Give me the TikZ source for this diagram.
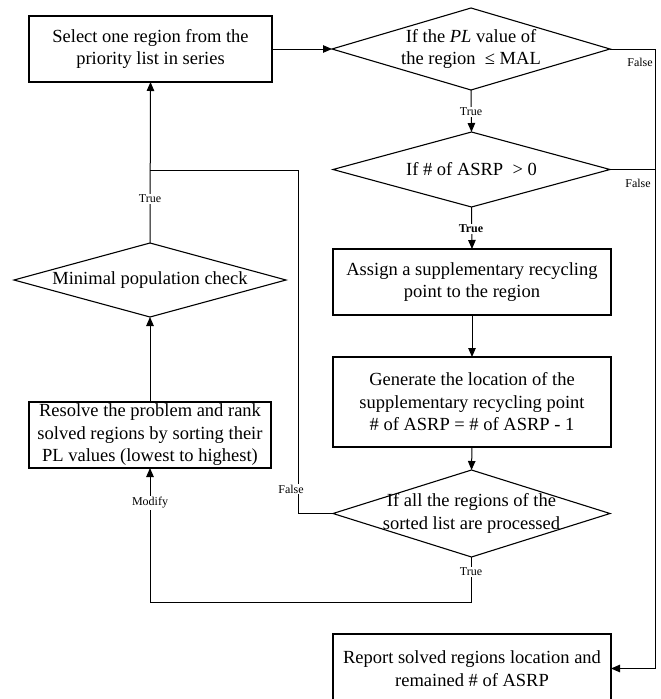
\documentclass[tikz,border=0pt]{standalone}
\usepackage{fontspec}
\setmainfont{Liberation Serif}
\usetikzlibrary{arrows.meta}
\begin{document}
\begin{tikzpicture}[x=1pt,y=-1pt,
  every node/.style={inner sep=0pt,outer sep=0pt},
  conn/.style={line width=1pt},
  arr/.style={conn,-{Triangle[length=9pt,width=7.5pt]}},
  box/.style={draw,line width=1.1pt,align=center,font=\fontsize{18.5}{22.5}\selectfont},
  dtext/.style={align=center,font=\fontsize{18.5}{22.5}\selectfont},
  lab/.style={fill=white,inner sep=1pt,font=\fontsize{12}{13}\selectfont}]
\useasboundingbox[fill=white] (0,0) rectangle (661,699);
% boxes
\node[box,minimum width=243pt,minimum height=66pt] (sel) at (150.5,49) {Select one region from the\\priority list in series};
\node[box,minimum width=278pt,minimum height=66pt] (asg) at (472,282) {Assign a supplementary recycling\\point to the region};
\node[box,minimum width=278pt,minimum height=90pt] (gen) at (472,402) {Generate the location of the\\supplementary recycling point\\\# of ASRP = \# of ASRP - 1};
\node[box,minimum width=278pt,minimum height=69pt] (rep) at (472,668.5) {Report solved regions location and\\remained \# of ASRP};
\node[box,minimum width=242pt,minimum height=66pt] (res) at (150,435) {Resolve the problem and rank\\solved regions by sorting their\\PL values (lowest to highest)};
% diamonds
\node[minimum width=278pt,minimum height=82pt] (d1) at (471,49) {};
\node[minimum width=277pt,minimum height=75pt] (d2) at (471.5,169.5) {};
\node[minimum width=277pt,minimum height=87pt] (d3) at (471.5,513.5) {};
\node[minimum width=272pt,minimum height=74pt] (mpc) at (150,280) {};
\foreach \d in {d1,d2,d3,mpc}
  \draw[line width=1.1pt,line join=miter] (\d.north) -- (\d.east) -- (\d.south) -- (\d.west) -- cycle;
\node[dtext] (t1) at (d1.center) {If the \textit{PL} value of\\the region \ ≤ MAL};
\node[dtext] (t2) at (d2.center) {If \# of ASRP \ > 0};
\node[dtext] (t3) at (d3.center) {If all the regions of the\\sorted list are processed};
\node[dtext] (t4) at (mpc.center) {Minimal population check};
% coordinates
\coordinate (rr) at (655,49);
\coordinate (j) at (150,170);
% connectors
\draw[arr] (sel.east) -- (d1.west);
\draw[arr] (d1.south) -- (d2.north);
\draw[arr] (d2.south) -- (asg.north);
\draw[arr] (asg.south) -- (gen.north);
\draw[arr] (gen.south) -- (d3.north);
\draw[arr] (d1.east) -- (rr) |- (rep.east);
\draw[conn] (d2.east) -- (d2.east -| rr);
\draw[arr] (mpc.north) -- (sel.south);
\draw[arr] (res.north) -- (mpc.south);
\draw[conn] (d3.west) -- ++(-35,0) |- (j);
\draw[arr] (d3.south) -- ++(0,45) -| (res.south);
% labels
\node[lab] (l1) at (471,112) {True};
\node[lab,font=\fontsize{12}{13}\selectfont\bfseries] (l2) at (471,229) {True};
\node[lab] (l3) at (471,572) {True};
\node[lab] (l4) at (150,199) {True};
\node[lab] (l5) at (150,503) {Modify};
\node[lab] (l6) at (291,489) {False};
\node[lab] (l7) at (640,62) {False};
\node[lab] (l8) at (638,183) {False};
\end{tikzpicture}
\end{document}
